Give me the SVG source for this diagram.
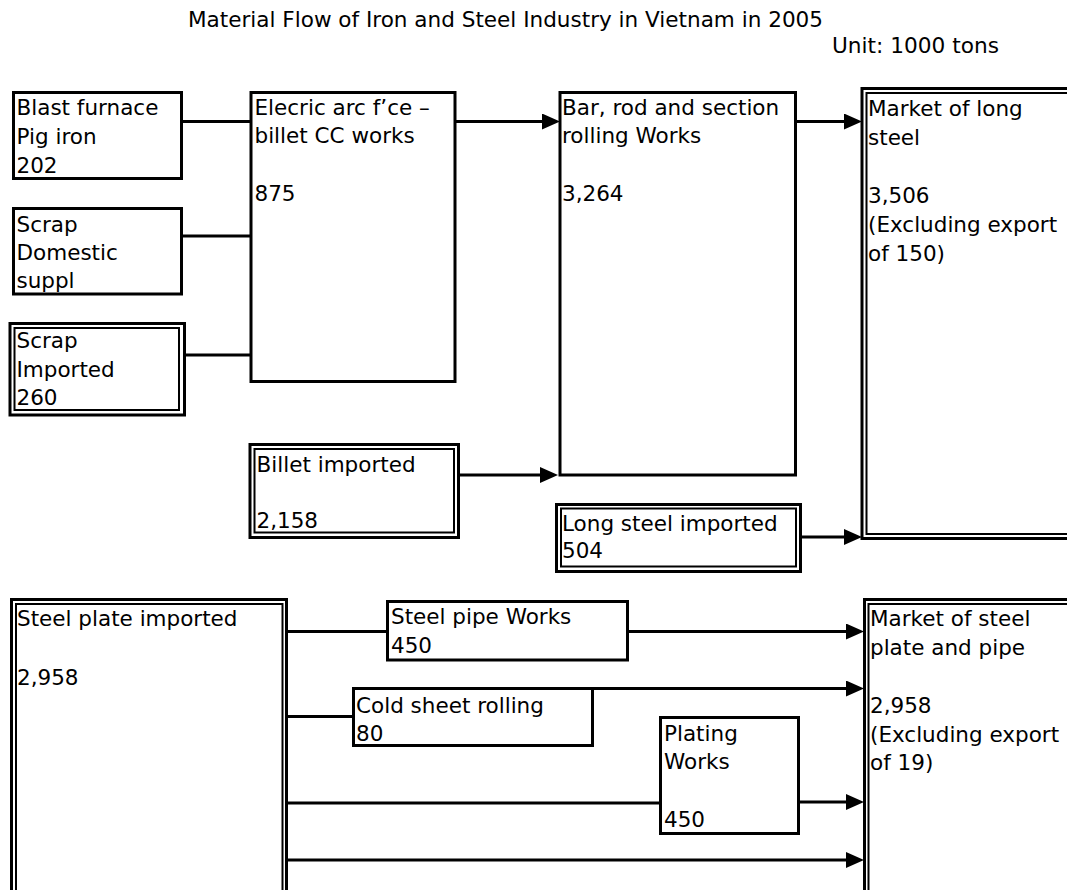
<svg xmlns="http://www.w3.org/2000/svg" width="1067" height="890" viewBox="0 0 1067 890">
<defs>
<style>
.b{fill:#fff;stroke:#000;stroke-width:3}
.i{fill:none;stroke:#000;stroke-width:2}
.c{fill:none;stroke:#000;stroke-width:3}
text{font-family:"DejaVu Sans","Liberation Sans",sans-serif;font-size:21.5px;fill:#000}
</style>
<marker id="ah" markerUnits="userSpaceOnUse" markerWidth="20" markerHeight="18" refX="12" refY="8" orient="auto" viewBox="0 0 20 18">
<path d="M0,0 L18,8 L0,16 z" fill="#000"/>
</marker>
</defs>
<rect width="1067" height="890" fill="#fff"/>
<text x="188" y="27" textLength="635" lengthAdjust="spacingAndGlyphs">Material Flow of Iron and Steel Industry in Vietnam in 2005</text>
<text x="832" y="53" textLength="167" lengthAdjust="spacingAndGlyphs">Unit: 1000 tons</text>

<g id="connectors">
<line class="c" x1="182" y1="121.5" x2="251" y2="121.5"/>
<line class="c" x1="182" y1="236" x2="251" y2="236"/>
<line class="c" x1="184" y1="355" x2="251" y2="355"/>
<line class="c" x1="455" y1="121.5" x2="554" y2="121.5" marker-end="url(#ah)"/>
<line class="c" x1="795" y1="121.5" x2="856" y2="121.5" marker-end="url(#ah)"/>
<line class="c" x1="459" y1="475" x2="552" y2="475" marker-end="url(#ah)"/>
<line class="c" x1="801" y1="537" x2="856" y2="537" marker-end="url(#ah)"/>
<line class="c" x1="288" y1="631.5" x2="387" y2="631.5"/>
<line class="c" x1="627" y1="631.5" x2="858" y2="631.5" marker-end="url(#ah)"/>
<line class="c" x1="288" y1="716.5" x2="353" y2="716.5"/>
<line class="c" x1="592" y1="688.5" x2="858" y2="688.5" marker-end="url(#ah)"/>
<line class="c" x1="288" y1="803" x2="660" y2="803"/>
<line class="c" x1="798" y1="802" x2="858" y2="802" marker-end="url(#ah)"/>
<line class="c" x1="288" y1="860" x2="858" y2="860" marker-end="url(#ah)"/>
</g>

<g id="blast">
<rect class="b" x="13.5" y="92.5" width="168" height="86"/>
<text x="16.5" y="115">Blast furnace</text>
<text x="16.5" y="144">Pig iron</text>
<text x="16.5" y="173">202</text>
</g>
<g id="scrap-domestic">
<rect class="b" x="13.5" y="208.5" width="168" height="85.5"/>
<text x="16.5" y="232">Scrap</text>
<text x="16.5" y="260">Domestic</text>
<text x="16.5" y="288">suppl</text>
</g>
<g id="scrap-imported">
<rect class="b" x="10" y="323.5" width="174.5" height="91.5"/>
<rect class="i" x="14.5" y="328" width="164.5" height="82"/>
<text x="16.5" y="348">Scrap</text>
<text x="16.5" y="377">Imported</text>
<text x="16.5" y="405">260</text>
</g>
<g id="eaf">
<rect class="b" x="251" y="92.5" width="204" height="289"/>
<text x="254.5" y="115">Elecric arc f’ce –</text>
<text x="254.5" y="143">billet CC works</text>
<text x="254.5" y="201">875</text>
</g>
<g id="bar">
<rect class="b" x="560" y="92.5" width="235.5" height="382.5"/>
<text x="562" y="115">Bar, rod and section</text>
<text x="562" y="143">rolling Works</text>
<text x="562" y="201">3,264</text>
</g>
<g id="market-long">
<rect class="b" x="862" y="88.5" width="215" height="450"/>
<rect class="i" x="866.5" y="93" width="210" height="441"/>
<text x="868" y="116">Market of long</text>
<text x="868" y="145">steel</text>
<text x="868" y="203">3,506</text>
<text x="868" y="232">(Excluding export</text>
<text x="868" y="261">of 150)</text>
</g>
<g id="billet">
<rect class="b" x="250" y="444.5" width="208.5" height="93"/>
<rect class="i" x="254.5" y="449" width="199.5" height="83.5"/>
<text x="256.5" y="472">Billet imported</text>
<text x="256.5" y="528">2,158</text>
</g>
<g id="long-imported">
<rect class="b" x="556.5" y="504.5" width="244" height="67"/>
<rect class="i" x="561" y="508.5" width="235" height="58"/>
<text x="562" y="531">Long steel imported</text>
<text x="562" y="558">504</text>
</g>
<g id="plate-imported">
<rect class="b" x="11.5" y="599.5" width="275" height="310"/>
<rect class="i" x="16" y="604" width="266.5" height="300"/>
<text x="17" y="626">Steel plate imported</text>
<text x="17" y="685">2,958</text>
</g>
<g id="pipe">
<rect class="b" x="387.5" y="601.5" width="240" height="58.5"/>
<text x="391" y="624">Steel pipe Works</text>
<text x="391" y="653">450</text>
</g>
<g id="cold">
<rect class="b" x="353.5" y="688.5" width="239" height="57"/>
<text x="356" y="713">Cold sheet rolling</text>
<text x="356" y="741">80</text>
</g>
<g id="plating">
<rect class="b" x="660.5" y="717.5" width="138" height="116"/>
<text x="664" y="741">Plating</text>
<text x="664" y="769">Works</text>
<text x="664" y="827">450</text>
</g>
<g id="market-plate">
<rect class="b" x="864.5" y="599.5" width="215" height="310"/>
<rect class="i" x="868.5" y="604" width="210" height="300"/>
<text x="870" y="626">Market of steel</text>
<text x="870" y="655">plate and pipe</text>
<text x="870" y="713">2,958</text>
<text x="870" y="742">(Excluding export</text>
<text x="870" y="770">of 19)</text>
</g>
</svg>
